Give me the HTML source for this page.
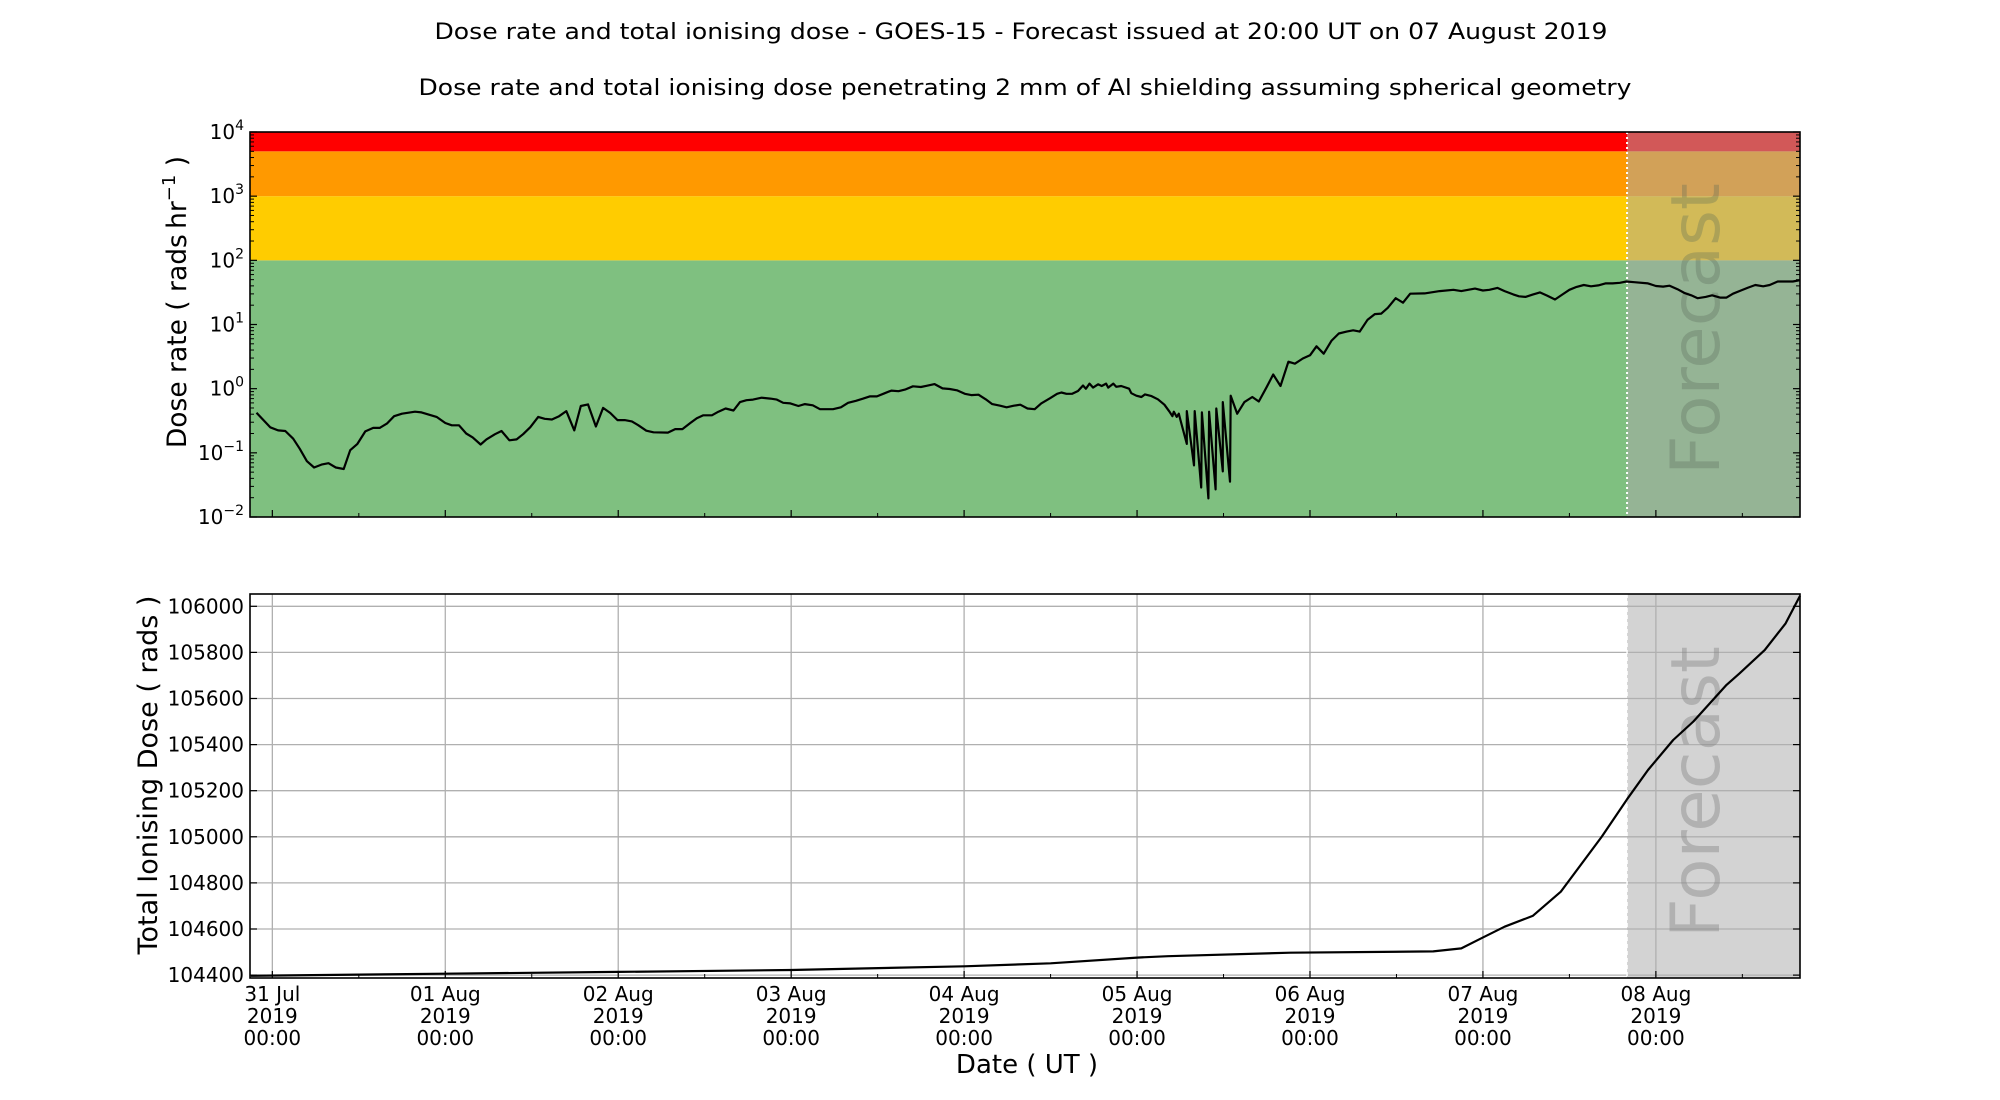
<!DOCTYPE html>
<html><head><meta charset="utf-8"><style>
html,body{margin:0;padding:0;background:#fff;}
svg{display:block;font-family:"DejaVu Sans","Liberation Sans",sans-serif;}
</style></head><body>
<svg id="chart" width="2000" height="1100" viewBox="0 0 2000 1100" xmlns="http://www.w3.org/2000/svg">
<text x="1021" y="39" font-size="22" text-anchor="middle" textLength="1173" lengthAdjust="spacingAndGlyphs">Dose rate and total ionising dose - GOES-15 - Forecast issued at 20:00 UT on 07 August 2019</text>
<text x="1025" y="95" font-size="22" text-anchor="middle" textLength="1213" lengthAdjust="spacingAndGlyphs">Dose rate and total ionising dose penetrating 2 mm of Al shielding assuming spherical geometry</text>
<g id="topPanel"></g>
<g id="botPanel"></g>
</svg>
<script>
// ---- data ----
const rateHours = [-2.2,-0.3,0.8,1.8,2.9,3.8,4.8,5.8,6.9,7.8,8.8,9.9,10.8,11.8,12.9,14.0,14.9,15.9,16.9,18.0,19.8,20.7,22.8,24.0,24.9,25.9,26.9,27.8,28.9,29.7,30.9,31.8,32.9,33.9,34.8,35.8,36.9,37.8,38.8,39.8,40.8,41.9,42.8,43.8,44.9,45.9,46.9,47.9,48.9,49.9,50.8,51.9,52.9,54.9,55.9,56.9,58.0,58.9,59.8,61.0,61.9,62.9,64.0,64.9,65.8,66.7,67.9,69.1,70.0,70.9,71.9,73.0,73.9,75.0,76.0,77.8,78.9,79.9,81.0,82.0,82.9,83.9,85.0,85.9,86.9,87.8,88.9,90.0,90.8,91.9,93.0,94.0,95.0,96.1,97.0,98.0,99.0,99.9,101.0,101.9,102.9,103.8,104.8,105.8,106.7,107.9,108.9,109.5,110.2,111.0,111.8,112.5,112.9,113.4,113.9,114.6,115.1,115.7,116.0,116.7,117.1,117.8,118.9,119.2,119.9,120.6,121.1,122.0,122.9,123.8,124.5,124.9,125.1,125.5,125.8,126.0,126.9,126.9,127.9,128.0,128.9,129.0,129.9,130.0,130.9,131.0,131.9,131.9,132.9,133.0,133.9,134.9,136.0,136.9,138.0,138.9,139.9,141.0,141.9,143.0,144.0,144.9,145.9,147.0,148.0,149.1,150.0,150.9,152.0,153.0,153.9,154.8,155.9,156.9,157.9,159.9,162.0,163.9,165.0,166.9,168.0,168.9,170.0,171.0,172.2,173.0,173.9,174.9,175.9,176.9,178.0,179.0,180.0,181.0,182.0,183.0,184.0,185.0,186.0,187.0,187.9,189.0,190.9,192.0,193.0,193.9,195.0,196.0,196.9,197.8,198.9,199.8,200.9,201.8,202.7,203.8,204.8,205.8,206.9,207.8,208.9,209.9,211.0,212.0];
const rateValues = [0.42,0.25,0.224,0.219,0.166,0.116,0.074,0.059,0.066,0.069,0.059,0.056,0.110,0.138,0.216,0.245,0.245,0.285,0.372,0.407,0.437,0.427,0.363,0.292,0.269,0.269,0.200,0.174,0.135,0.162,0.195,0.219,0.157,0.162,0.195,0.251,0.363,0.339,0.331,0.372,0.447,0.224,0.537,0.569,0.257,0.501,0.417,0.324,0.324,0.309,0.269,0.221,0.209,0.207,0.234,0.234,0.292,0.347,0.385,0.385,0.437,0.490,0.457,0.617,0.661,0.676,0.724,0.700,0.676,0.603,0.589,0.537,0.575,0.550,0.479,0.479,0.513,0.603,0.646,0.700,0.759,0.759,0.851,0.933,0.912,0.966,1.09,1.06,1.11,1.18,1.01,0.989,0.942,0.832,0.794,0.805,0.682,0.575,0.543,0.513,0.543,0.562,0.490,0.479,0.589,0.708,0.832,0.871,0.832,0.832,0.920,1.12,1.00,1.20,1.04,1.17,1.10,1.20,1.04,1.20,1.07,1.10,1.00,0.851,0.776,0.741,0.813,0.767,0.682,0.562,0.437,0.372,0.437,0.363,0.407,0.331,0.138,0.447,0.0638,0.447,0.0288,0.427,0.0195,0.437,0.0269,0.490,0.0513,0.617,0.0355,0.776,0.407,0.617,0.741,0.631,1.07,1.66,1.10,2.63,2.45,2.95,3.31,4.57,3.51,5.62,7.24,7.76,8.13,7.76,11.9,14.5,14.8,18.2,25.7,21.9,30.2,30.5,33.1,34.7,33.1,36.3,33.9,34.7,37.2,33.1,29.5,27.5,26.9,29.2,31.6,28.2,24.5,29.2,34.7,38.5,41.2,39.4,40.7,43.7,43.7,44.7,46.8,45.7,43.7,39.8,38.9,40.3,35.5,30.9,28.5,25.7,26.9,28.5,26.3,26.3,30.2,33.9,37.6,41.2,39.4,41.2,46.8,46.8,46.8,49.0];
const doseHours = [-3,24,48,72,96,108,120,124.3,141.3,161.1,165,167.8,171,174.9,178.8,184.5,188,190.9,194.4,197.2,201.8,203.6,207.1,210,212];
const doseValues = [104397,104406,104414,104422,104438,104451,104476,104482,104497,104503,104516,104560,104610,104657,104762,105001,105163,105290,105420,105500,105659,105709,105810,105926,106045];
const dayLabels = ["31 Jul","01 Aug","02 Aug","03 Aug","04 Aug","05 Aug","06 Aug","07 Aug","08 Aug"];
const doseTicks = [104400,104600,104800,105000,105200,105400,105600,105800,106000];
const rateDecades = [-2,-1,0,1,2,3,4];
const bandLimits = [100,1000,5000,10000];
const forecastHour = 188;

// ---- geometry ----
const L=250,R=1800,T1=132,B1=517,T2=594,B2=978;
const H0=-3.1,H1=212.0;
const xs=h=>L+(h-H0)/(H1-H0)*(R-L);
const yr=v=>T1+(4-Math.log10(v))/6*(B1-T1);
const yd=v=>606.3+(106000-v)/200*46.1;
const NS="http://www.w3.org/2000/svg";
function mk(p,tag,at){const e=document.createElementNS(NS,tag);for(const k in at)e.setAttribute(k,at[k]);p.appendChild(e);return e;}
const topG=document.getElementById('topPanel'), botG=document.getElementById('botPanel');

// bands
const bandColors=["#ffcc00","#ff9900","#ff0000"];
let g=mk(topG,'rect',{x:L,y:yr(bandLimits[0]),width:R-L,height:B1-yr(bandLimits[0]),fill:'#7fc080'});


for(let i=0;i<3;i++){
  const r=mk(topG,'rect',{x:L,y:yr(bandLimits[i+1]),width:R-L,height:yr(bandLimits[i])-yr(bandLimits[i+1]),fill:bandColors[i]});
  
  
}
// forecast overlay top
const fx=xs(forecastHour);
let ov=mk(topG,'rect',{x:fx,y:T1,width:R-fx,height:B1-T1,fill:'#a9a9a9','fill-opacity':0.52});


let fl=mk(topG,'line',{x1:fx,x2:fx,y1:T1,y2:B1,stroke:'#fff','stroke-width':2,'stroke-dasharray':'2,3'});


let ft=mk(topG,'text',{transform:`translate(${fx+92},329) rotate(-90)`,'font-size':68,'text-anchor':'middle',fill:'#556655','fill-opacity':0.3,textLength:292,lengthAdjust:'spacingAndGlyphs'});
ft.textContent='Forecast';


// rate line
let pts=rateHours.map((h,i)=>xs(h).toFixed(1)+','+yr(rateValues[i]).toFixed(1)).join(' ');
let pl=mk(topG,'polyline',{points:pts,fill:'none',stroke:'#000','stroke-width':2.2,'stroke-linejoin':'round'});


mk(topG,'rect',{x:L,y:T1,width:R-L,height:B1-T1,fill:'none',stroke:'#000','stroke-width':1.6});
// top y ticks
rateDecades.forEach(d=>{
  const y=yr(Math.pow(10,d));
  mk(topG,'line',{x1:L,x2:L+7,y1:y,y2:y,stroke:'#000','stroke-width':1.2});
  mk(topG,'line',{x1:R,x2:R-7,y1:y,y2:y,stroke:'#000','stroke-width':1.2});
  const t=mk(topG,'text',{x:L-6,y:y+7,'font-size':20,'text-anchor':'end'});
  
  
  t.innerHTML='10<tspan dy="-9" font-size="14">'+(d<0?'\u2212'+(-d):d)+'</tspan>';
  if(d<4) for(let m=2;m<10;m++){const ym=yr(m*Math.pow(10,d));
    mk(topG,'line',{x1:L,x2:L+4,y1:ym,y2:ym,stroke:'#000','stroke-width':1});
    mk(topG,'line',{x1:R,x2:R-4,y1:ym,y2:ym,stroke:'#000','stroke-width':1});}
});
let yl=mk(topG,'text',{transform:'translate(186,302) rotate(-90)','font-size':26.5,'text-anchor':'middle'});
yl.innerHTML='Dose rate ( rads\u2009hr<tspan dy="-11" font-size="18">\u22121</tspan><tspan dy="11"> )</tspan>';



// bottom panel
let ov2=mk(botG,'rect',{x:fx,y:T2,width:R-fx,height:B2-T2,fill:'#d3d3d3'});


doseTicks.forEach(v=>{
  const y=yd(v);
  mk(botG,'line',{x1:L,x2:R,y1:y,y2:y,stroke:'#b0b0b0','stroke-width':1.3});
  mk(botG,'line',{x1:L,x2:L+7,y1:y,y2:y,stroke:'#000','stroke-width':1.2});
  mk(botG,'line',{x1:R,x2:R-7,y1:y,y2:y,stroke:'#000','stroke-width':1.2});
  const t=mk(botG,'text',{x:L-6,y:y+7,'font-size':20,'text-anchor':'end'});
  t.textContent=v;
  
  
});
mk(botG,'line',{x1:fx,x2:fx,y1:T2,y2:B2,stroke:'#fff','stroke-width':1.5,'stroke-dasharray':'4,3'});
dayLabels.forEach((lab,i)=>{
  const x=xs(i*24);
  mk(botG,'line',{x1:x,x2:x,y1:T2,y2:B2,stroke:'#b0b0b0','stroke-width':1.3});
  mk(topG,'line',{x1:x,x2:x,y1:B1,y2:B1-7,stroke:'#000','stroke-width':1.2});
  mk(botG,'line',{x1:x,x2:x,y1:B2,y2:B2-7,stroke:'#000','stroke-width':1.2});
  const xm=xs(i*24+12);
  if(xm<R){
    mk(topG,'line',{x1:xm,x2:xm,y1:B1,y2:B1-4,stroke:'#000','stroke-width':1});
    mk(botG,'line',{x1:xm,x2:xm,y1:B2,y2:B2-4,stroke:'#000','stroke-width':1});
  }
  const t=mk(botG,'text',{x:x,y:1001,'font-size':20,'text-anchor':'middle'});
  t.innerHTML='<tspan x="'+x+'">'+lab+'</tspan><tspan x="'+x+'" dy="22">2019</tspan><tspan x="'+x+'" dy="22">00:00</tspan>';
  
  
});
let ft2=mk(botG,'text',{transform:`translate(${fx+92},792) rotate(-90)`,'font-size':68,'text-anchor':'middle',fill:'#888','fill-opacity':0.45,textLength:292,lengthAdjust:'spacingAndGlyphs'});
ft2.textContent='Forecast';


let pts2=doseHours.map((h,i)=>xs(h).toFixed(1)+','+yd(doseValues[i]).toFixed(1)).join(' ');
let pl2=mk(botG,'polyline',{points:pts2,fill:'none',stroke:'#000','stroke-width':2.2,'stroke-linejoin':'round'});


mk(botG,'rect',{x:L,y:T2,width:R-L,height:B2-T2,fill:'none',stroke:'#000','stroke-width':1.6});
let yl2=mk(botG,'text',{transform:'translate(157,775) rotate(-90)','font-size':27,'text-anchor':'middle'});
yl2.textContent='Total Ionising Dose ( rads )';


let xl=mk(botG,'text',{x:1027,y:1073,'font-size':26,'text-anchor':'middle'});
xl.textContent='Date ( UT )';


</script>
</body></html>
